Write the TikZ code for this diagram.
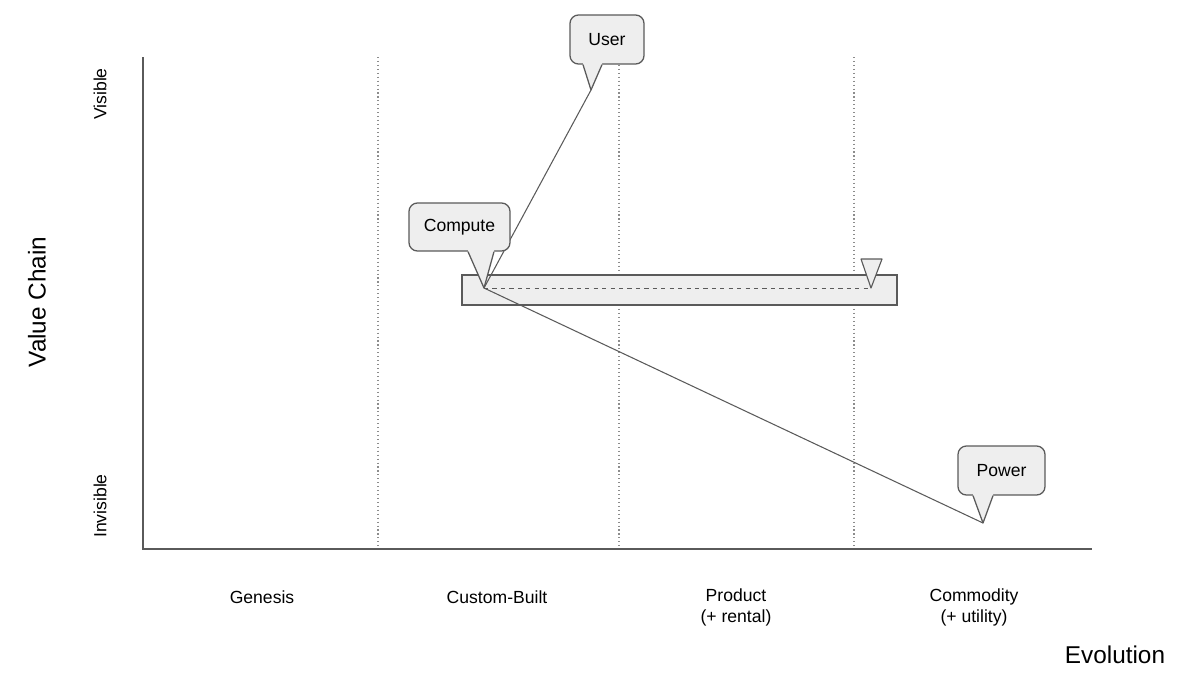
\documentclass[tikz,border=0pt]{standalone}
\usepackage{fontspec}
\setmainfont{Liberation Sans}
\usetikzlibrary{calc}
\definecolor{edge}{HTML}{5A5A5A}
\definecolor{boxfill}{HTML}{EEEEEE}
\definecolor{grid}{HTML}{8C8C8C}
\tikzset{
  callbox/.style={draw=edge, fill=boxfill, line width=0.9pt, rounded corners=6pt,
    minimum height=1.2cm, inner sep=0pt, font=\fontsize{12.5}{15}\selectfont},
  stage/.style={font=\fontsize{12.5}{15}\selectfont, align=center},
  axislabel/.style={font=\fontsize{17.3}{20}\selectfont},
  link/.style={edge, line width=0.75pt},
}

\begin{document}
\begin{tikzpicture}[x=0.025cm, y=-0.025cm]
\useasboundingbox (0,0) rectangle (1200,684);
% ---------- axes and stage boundaries
\foreach \sx in {378,619,854}
  \draw[grid, dotted, line width=0.8pt] (\sx,57) -- (\sx,549);
\coordinate (top) at (143,57);
\coordinate (origin) at (143,549);
\coordinate (right) at (1092,549);
\draw[edge, line width=0.8pt] (top) -- (origin) -- (right);

\node[stage, rotate=90] (visible) at (100,94) {Visible};
\node[stage, rotate=90] (invisible) at (100,506) {Invisible};
\node[axislabel, rotate=90] (vchain) at (37,302) {Value Chain};

\node[stage] (genesis) at (262,597) {Genesis};
\node[stage] (custom) at (497,597) {Custom-Built};
\node[stage] (product) at (736,607) {Product\\(+ rental)};
\node[stage] (commodity) at (974,607) {Commodity\\(+ utility)};
\node[axislabel] (evolution) at (1115,655) {Evolution};

% ---------- the compute bar with its movement
\coordinate (cmp-tip) at (484,288);
\coordinate (cmp-end) at (871,288);
\coordinate (usr-tip) at (591,90);
\coordinate (pwr-tip) at (983,523);
\draw[edge, fill=boxfill, line width=0.9pt] (462,275) rectangle (897,305);
\draw[edge, dashed, line width=0.7pt] (cmp-tip) -- (cmp-end);
\draw[edge, fill=boxfill, line width=0.8pt, line join=round]
  (861,259) -- (882,259) -- (cmp-end) -- cycle;

% ---------- value chain links
\draw[link] (cmp-tip) -- (usr-tip);
\draw[link] (cmp-tip) -- (pwr-tip);

% ---------- components
\node[callbox, minimum width=2.525cm] (cmp) at (459.5,227) {Compute};
\node[callbox, minimum width=1.85cm, minimum height=1.225cm] (usr) at (607,39.5) {User};
\node[callbox, minimum width=2.175cm, minimum height=1.225cm] (pwr) at (1001.5,470.5) {Power};
\foreach \n/\a/\b in {cmp/8.5/34.5, usr/-24/-5, pwr/-28.5/-8.5}{
  \fill[boxfill] ($(\n.south)+(\a,-2)$) -- ($(\n.south)+(\a,0)$) -- (\n-tip)
     -- ($(\n.south)+(\b,0)$) -- ($(\n.south)+(\b,-2)$) -- cycle;
  \draw[edge, line width=0.9pt, line join=round]
     ($(\n.south)+(\a,0)$) -- (\n-tip) -- ($(\n.south)+(\b,0)$);}
\end{tikzpicture}
\end{document}
